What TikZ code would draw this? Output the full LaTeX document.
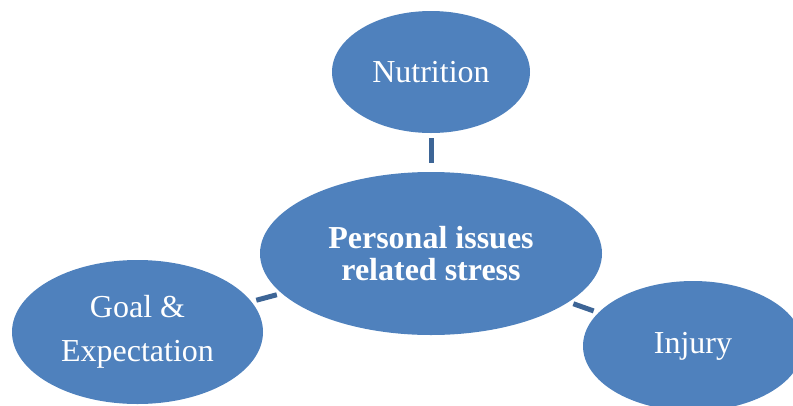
\documentclass[tikz,border=0pt]{standalone}
\usepackage{fontspec}
\setmainfont{Liberation Serif}
\usetikzlibrary{shapes.geometric}
\definecolor{bubbleblue}{HTML}{4F81BD}
\definecolor{linkblue}{HTML}{3D6596}
\tikzstyle{bubble}=[
    ellipse, fill=bubbleblue, draw=none,
    inner sep=0pt, text=white,
    align=center, font=\fontsize{32}{44}\selectfont,
]
\tikzstyle{link}=[
    draw=linkblue, line width=5pt,
]

\begin{document}
\begin{tikzpicture}[x=1pt,y=-1pt]
        \useasboundingbox (0,0) rectangle (793,405);
        \clip (0,0) rectangle (793,405);
        \node (stress) at (431, 253.5) [bubble, minimum width=342pt, minimum height=163pt,
            font=\bfseries\fontsize{32}{32}\selectfont] {Personal issues\\related stress};
        \node (nutrition) at (431, 72) [bubble, minimum width=198pt, minimum height=122pt] {Nutrition};
        \node (goal) at (137.5, 332) [bubble, minimum width=251pt, minimum height=144pt] {Goal \&\\Expectation};
        \node (injury) at (693, 346) [bubble, minimum width=220pt, minimum height=130pt] {Injury};
        \draw[link, shorten <=5pt, shorten >=9pt] (nutrition) -- (stress);
        \draw[link, shorten <=5pt, shorten >=5pt] (goal) -- (stress);
        \draw[link, shorten <=5pt, shorten >=5pt] (stress) -- (injury);
    \end{tikzpicture}
\end{document}
